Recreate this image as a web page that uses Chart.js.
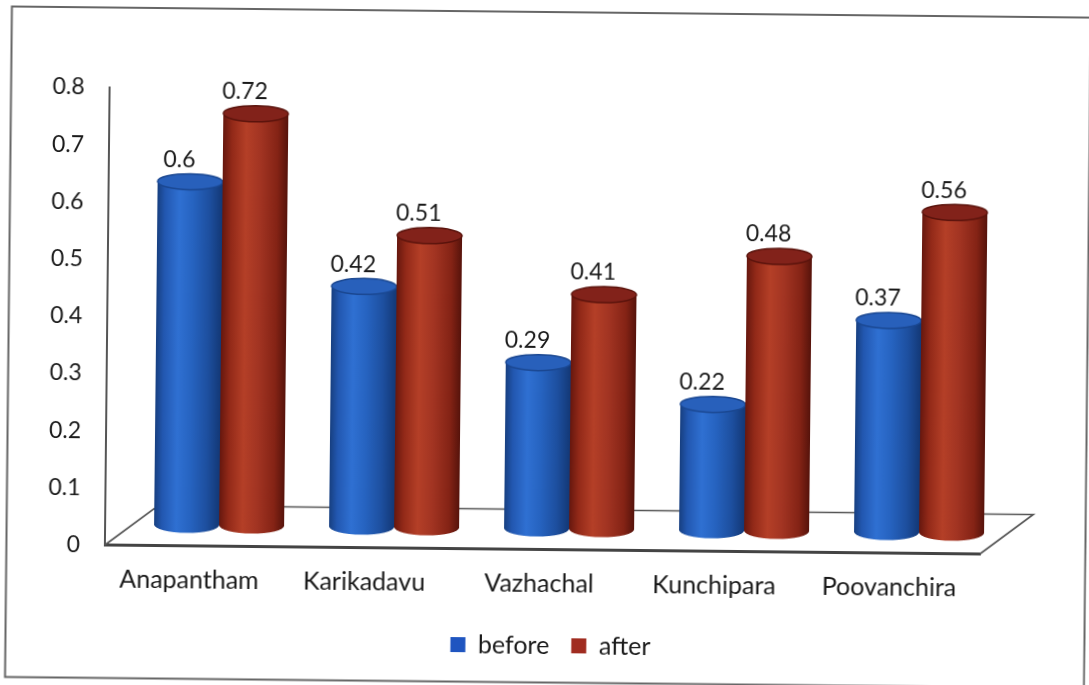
<!DOCTYPE html>
<html>
<head>
<meta charset="utf-8">
<script src="https://cdn.jsdelivr.net/npm/chart.js@4/dist/chart.umd.min.js"></script>
<style>
  html, body { margin: 0; padding: 0; background: #fff; overflow: hidden; }
  #wrap { width: 1089px; height: 685px; }
  canvas { display: block; transform: rotate(0.59deg); transform-origin: 50% 50%; }
</style>
</head>
<body>
<div id="wrap"><canvas id="chart" width="1089" height="685"></canvas></div>
<script>
// ---- data ----
const categories = ['Anapantham', 'Karikadavu', 'Vazhachal', 'Kunchipara', 'Poovanchira'];
const seriesNames = ['before', 'after'];
const beforeValues = [0.6, 0.42, 0.29, 0.22, 0.37];
const afterValues = [0.72, 0.51, 0.41, 0.48, 0.56];
const yTickLabels = ['0', '0.1', '0.2', '0.3', '0.4', '0.5', '0.6', '0.7', '0.8'];

// ---- styles ----
const FONT = 'Lato, "Open Sans", sans-serif';
const TEXT = '#1a1a1a';
const legendColors = ['#1f55c0', '#a02c20'];
const palettes = [
  { // blue cylinders
    body: [[0, '#173f80'], [0.12, '#2257b0'], [0.34, '#2f70d2'], [0.55, '#2663c0'], [0.8, '#1d4f9f'], [1, '#133876']],
    top: '#2860bb', rim: '#1a4791'
  },
  { // red cylinders
    body: [[0, '#66170e'], [0.14, '#922918'], [0.36, '#b43f27'], [0.58, '#a23422'], [0.84, '#842315'], [1, '#56130b']],
    top: '#82221a', rim: '#5a130c'
  }
];
const FLOOR_DEPTH = { x: 53, y: -40 };   // oblique depth of the floor
const BAR_DEPTH = { x: 26.5, y: -21 };   // cylinders stand mid-depth
const ELLIPSE_RY = 8;
const LEGEND_SHIFT = 62.5;

function drawCylinder(ctx, cx, top, base, rx, ry, pal) {
  const g = ctx.createLinearGradient(cx - rx, 0, cx + rx, 0);
  pal.body.forEach(([s, c]) => g.addColorStop(s, c));
  ctx.fillStyle = g;
  ctx.beginPath();
  ctx.moveTo(cx - rx, top);
  ctx.lineTo(cx - rx, base);
  ctx.ellipse(cx, base, rx, ry, 0, Math.PI, 0, true);
  ctx.lineTo(cx + rx, top);
  ctx.closePath();
  ctx.fill();
  // top cap
  ctx.beginPath();
  ctx.ellipse(cx, top, rx, ry, 0, 0, Math.PI * 2);
  ctx.fillStyle = pal.top;
  ctx.fill();
  ctx.lineWidth = 1.5;
  ctx.strokeStyle = pal.rim;
  ctx.stroke();
}

const cylinderPlugin = {
  id: 'cylinders',
  beforeDraw(chart) {
    const ctx = chart.ctx;
    ctx.save();
    ctx.fillStyle = '#fff';
    ctx.fillRect(0, 0, chart.width, chart.height);
    ctx.strokeStyle = '#666';
    ctx.lineWidth = 2;
    ctx.strokeRect(8.5, 12, 1079, 670.5);
    ctx.restore();
  },
  afterLayout(chart) {
    // the legend sits centred under the whole page, not only the plot
    const lg = chart.legend;
    lg.left += LEGEND_SHIFT;
    lg.right += LEGEND_SHIFT;
  },
  beforeDatasetsDraw(chart) {
    const { ctx, chartArea: a } = chart;
    ctx.save();
    ctx.strokeStyle = '#555';
    ctx.lineWidth = 1.6;
    ctx.beginPath();
    ctx.moveTo(a.left, a.bottom);
    ctx.lineTo(a.left + FLOOR_DEPTH.x, a.bottom + FLOOR_DEPTH.y);
    ctx.lineTo(a.right + FLOOR_DEPTH.x, a.bottom + FLOOR_DEPTH.y);
    ctx.lineTo(a.right, a.bottom);
    ctx.stroke();
    ctx.restore();
  },
  beforeDatasetDraw() {
    return false;
  },
  afterDatasetsDraw(chart) {
    const ctx = chart.ctx;
    ctx.save();
    const metas = chart.data.datasets.map((d, i) => chart.getDatasetMeta(i));
    for (let i = 0; i < categories.length; i++) {
      metas.forEach((meta, d) => {
        const bar = meta.data[i];
        const cx = bar.x + BAR_DEPTH.x;
        const top = bar.y + BAR_DEPTH.y;
        const base = bar.base + BAR_DEPTH.y;
        drawCylinder(ctx, cx, top, base, bar.width / 2, ELLIPSE_RY, palettes[d]);
      });
    }
    // value labels
    ctx.font = '23px ' + FONT;
    ctx.fillStyle = TEXT;
    ctx.textAlign = 'center';
    ctx.textBaseline = 'middle';
    metas.forEach((meta, d) => {
      const values = chart.data.datasets[d].data;
      meta.data.forEach((bar, i) => {
        const cx = bar.x + BAR_DEPTH.x - 11;
        const y = bar.y + BAR_DEPTH.y - ELLIPSE_RY - 14;
        ctx.fillText(String(values[i]), cx, y);
      });
    });
    ctx.restore();
  }
};

new Chart(document.getElementById('chart'), {
  type: 'bar',
  data: {
    labels: categories,
    datasets: [
      { label: seriesNames[0], data: beforeValues, backgroundColor: legendColors[0], borderWidth: 0 },
      { label: seriesNames[1], data: afterValues, backgroundColor: legendColors[1], borderWidth: 0 }
    ]
  },
  options: {
    responsive: false,
    animation: false,
    events: [],
    categoryPercentage: 0.743,
    barPercentage: 1,
    layout: { padding: { top: 92, left: 0, right: 107, bottom: 17 } },
    scales: {
      x: {
        grid: { display: false, drawTicks: false },
        border: { display: true, color: '#444', width: 3 },
        ticks: { padding: 19, labelOffset: -3, color: TEXT, font: { family: FONT, size: 25 }, maxRotation: 0 },
        afterFit(scale) { scale.height = 61.5; }
      },
      y: {
        min: 0, max: 0.8,
        grid: { display: false, drawTicks: false },
        border: { display: true, color: '#555', width: 2 },
        ticks: {
          stepSize: 0.1, padding: 25, color: TEXT, font: { family: FONT, size: 23 },
          callback: (v, i) => yTickLabels[i]
        },
        afterFit(scale) { scale.width = 107; }
      }
    },
    plugins: {
      legend: {
        position: 'bottom',
        labels: { boxWidth: 15, boxHeight: 15, padding: 22, color: TEXT, font: { family: FONT, size: 25 } }
      },
      tooltip: { enabled: false }
    }
  },
  plugins: [cylinderPlugin]
});
</script>
</body>
</html>
